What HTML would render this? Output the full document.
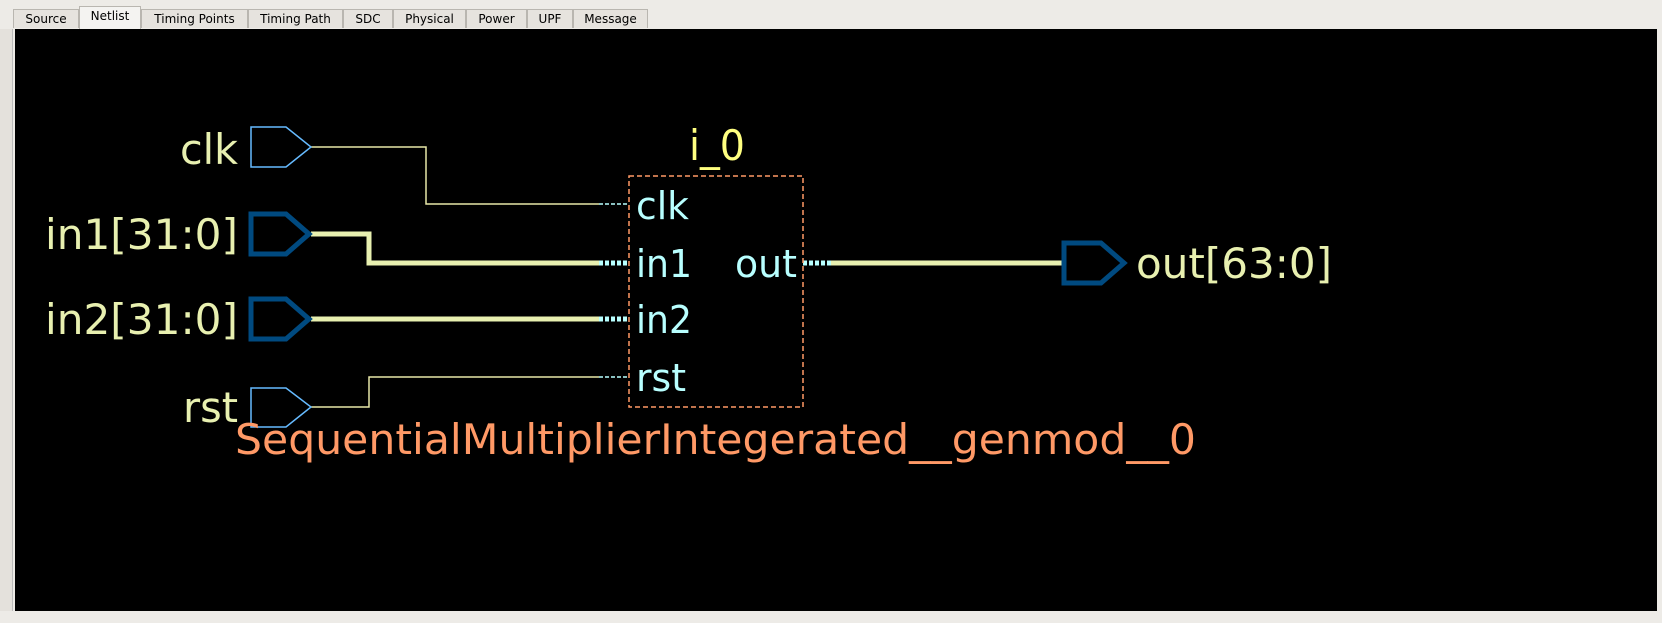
<!DOCTYPE html>
<html><head><meta charset="utf-8"><style>
html,body{margin:0;padding:0;width:1662px;height:623px;overflow:hidden;background:#edebe7;font-family:"DejaVu Sans","Liberation Sans",sans-serif}
.tabs{position:absolute;top:0;left:0;width:1662px;height:29px}
.tab{position:absolute;top:9px;height:19px;border:1px solid #b9b6b0;border-bottom:none;background:#e6e3de;font-size:12px;line-height:18px;text-align:center;color:#000;box-sizing:border-box}
.tab.act{top:6px;height:23px;background:#f4f3f1}
#cv{position:absolute;left:15px;top:29px;width:1642px;height:582px;background:#000}
</style></head><body>
<div class="tabs">
<div class="tab" style="left:13px;width:66px">Source</div>
<div class="tab act" style="left:79px;width:62px">Netlist</div>
<div class="tab" style="left:141px;width:107px">Timing Points</div>
<div class="tab" style="left:248px;width:95px">Timing Path</div>
<div class="tab" style="left:343px;width:50px">SDC</div>
<div class="tab" style="left:393px;width:73px">Physical</div>
<div class="tab" style="left:466px;width:61px">Power</div>
<div class="tab" style="left:527px;width:46px">UPF</div>
<div class="tab" style="left:573px;width:75px">Message</div>
</div>
<div style="position:absolute;left:0;top:29px;width:12px;height:582px;border-right:1px solid #bbb;background:#e4e1dc"></div>
<div id="cv"></div>
<svg width="1662" height="623" style="position:absolute;left:0;top:0" font-family="DejaVu Sans, Liberation Sans, sans-serif">
<!-- wires -->
<polyline points="311,147 426,147 426,204 599,204" fill="none" stroke="#e8e8a8" stroke-width="1.5"/>
<polyline points="311,234 369,234 369,263 599,263" fill="none" stroke="#e8f0b0" stroke-width="5"/>
<line x1="311" y1="319" x2="599" y2="319" stroke="#e8f0b0" stroke-width="5"/>
<polyline points="311,407 369,407 369,377 599,377" fill="none" stroke="#e8e8a8" stroke-width="1.5"/>
<line x1="830" y1="263" x2="1062" y2="263" stroke="#e8f0b0" stroke-width="5"/>
<!-- cyan stubs -->
<g stroke="#b8ffff">
<line x1="599" y1="204" x2="629" y2="204" stroke-width="1.5" stroke-dasharray="4,2"/>
<line x1="599" y1="377" x2="629" y2="377" stroke-width="1.5" stroke-dasharray="4,2"/>
<line x1="599" y1="263" x2="629" y2="263" stroke-width="5" stroke-dasharray="4,2"/>
<line x1="599" y1="319" x2="629" y2="319" stroke-width="5" stroke-dasharray="4,2"/>
<line x1="803" y1="263" x2="833" y2="263" stroke-width="5" stroke-dasharray="4,2"/>
</g>
<!-- box -->
<rect x="629" y="176" width="174" height="231" fill="none" stroke="#ff9966" stroke-width="1.5" stroke-dasharray="5,3"/>
<!-- ports -->
<polygon points="251,127 286,127 311,147 286,167 251,167" fill="none" stroke="#66bbff" stroke-width="1.5"/>
<polygon points="251,388 286,388 311,407 286,427 251,427" fill="none" stroke="#66bbff" stroke-width="1.5"/>
<polygon points="251,214 286,214 309,234 286,254 251,254" fill="none" stroke="#004a80" stroke-width="5"/>
<polygon points="251,299 286,299 309,319 286,339 251,339" fill="none" stroke="#004a80" stroke-width="5"/>
<polygon points="1064,243 1101,243 1124,263 1101,283 1064,283" fill="none" stroke="#004a80" stroke-width="5"/>
<!-- labels -->
<g fill="#e8f0b0" font-size="42">
<text x="180" y="164" textLength="58" lengthAdjust="spacingAndGlyphs">clk</text>
<text x="45" y="249" textLength="193" lengthAdjust="spacingAndGlyphs">in1[31:0]</text>
<text x="45" y="334" textLength="193" lengthAdjust="spacingAndGlyphs">in2[31:0]</text>
<text x="183" y="422" textLength="55" lengthAdjust="spacingAndGlyphs">rst</text>
<text x="1136" y="278" textLength="196" lengthAdjust="spacingAndGlyphs">out[63:0]</text>
</g>
<text x="689" y="160" fill="#ffff80" font-size="42" textLength="56" lengthAdjust="spacingAndGlyphs">i_0</text>
<g fill="#b8ffff" font-size="38">
<text x="636" y="219" textLength="53" lengthAdjust="spacingAndGlyphs">clk</text>
<text x="636" y="277" textLength="56" lengthAdjust="spacingAndGlyphs">in1</text>
<text x="636" y="333" textLength="56" lengthAdjust="spacingAndGlyphs">in2</text>
<text x="636" y="391" textLength="50" lengthAdjust="spacingAndGlyphs">rst</text>
<text x="735" y="277" textLength="62" lengthAdjust="spacingAndGlyphs">out</text>
</g>
<text x="235" y="454" fill="#ff9966" font-size="42" textLength="961" lengthAdjust="spacingAndGlyphs">SequentialMultiplierIntegerated__genmod__0</text>
</svg>
</body></html>
